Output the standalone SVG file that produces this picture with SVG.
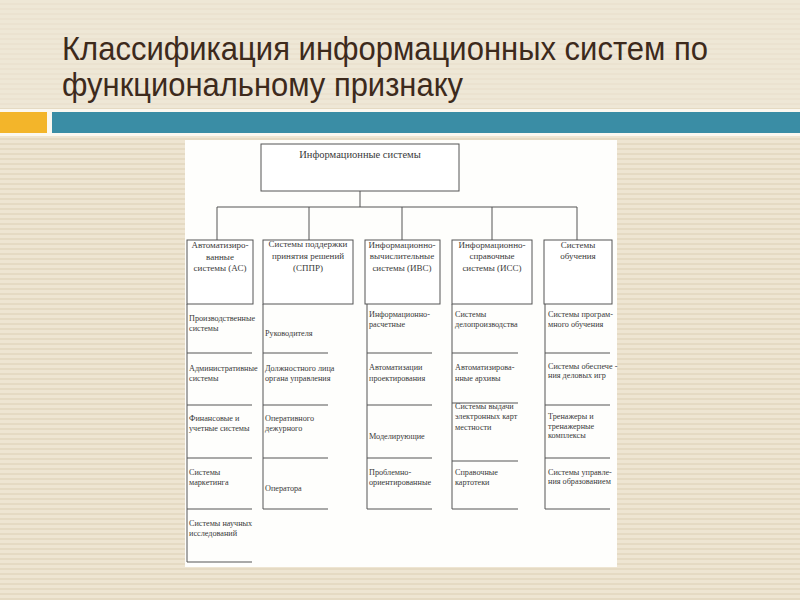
<svg xmlns="http://www.w3.org/2000/svg" width="800" height="600" viewBox="0 0 800 600">
<defs>
<pattern id="stripes" x="0" y="0" width="8" height="5" patternUnits="userSpaceOnUse">
<rect width="8" height="5" fill="#eee5d2"/>
<rect y="3" width="8" height="2" fill="#e5dac3"/>
</pattern>
<style>
.ln{stroke:#555;stroke-width:1;fill:none}
.bx{stroke:#555;stroke-width:1;fill:#fff}
.t{font-family:"Liberation Serif","DejaVu Serif",serif;font-size:8.2px;fill:#3a3a3a}
.h{font-family:"Liberation Serif","DejaVu Serif",serif;font-size:9px;fill:#3a3a3a;text-anchor:middle}
.title{font-family:"Liberation Sans Narrow","Liberation Sans",Arial,sans-serif;font-size:33px;fill:#3d2a1c}
</style>
</defs>
<rect width="800" height="600" fill="url(#stripes)"/>
<rect width="800" height="108" fill="#efe8d8" opacity="0.6"/>
<g id="title">
<text class="title" x="62" y="60" textLength="646" lengthAdjust="spacingAndGlyphs">Классификация информационных систем по</text>
<text class="title" x="62" y="96" textLength="401" lengthAdjust="spacingAndGlyphs">функциональному признаку</text>
</g>
<g id="bars">
<rect x="0" y="109" width="800" height="27" fill="#fbf8f0"/>
<rect x="0" y="112" width="47" height="21" fill="#f3b52a"/>
<rect x="52" y="112" width="748" height="21" fill="#3a8da5"/>
</g>
<rect id="panel" x="185" y="140" width="432" height="427" fill="#fefefc"/>
<g id="connectors">
<path class="ln" d="M360 191V207M217 207H577M217 207V240M309 207V240M402 207V240M492 207V240M577 207V240"/>
</g>
<g id="root">
<rect class="bx" x="261" y="144" width="198" height="47"/>
<text class="h" x="360" y="158" style="font-size:10.5px">Информационные системы</text>
</g>
<g id="as">
<rect class="bx" x="187" y="240" width="66" height="64"/>
<text class="h" x="220" y="248">Автоматизиро-</text>
<text class="h" x="220" y="260">ванные</text>
<text class="h" x="220" y="271">системы (АС)</text>
<path class="ln" d="M187 304V562M187 353H252M187 405H252M187 458H252M187 509H252M187 562H252"/>
<text class="t" x="189" y="321">Производственные</text>
<text class="t" x="189" y="331">системы</text>
<text class="t" x="189" y="371">Административные</text>
<text class="t" x="189" y="381">системы</text>
<text class="t" x="189" y="421">Финансовые и</text>
<text class="t" x="189" y="431">учетные системы</text>
<text class="t" x="189" y="475">Системы</text>
<text class="t" x="189" y="485">маркетинга</text>
<text class="t" x="189" y="526">Системы научных</text>
<text class="t" x="189" y="536">исследований</text>
</g>
<g id="sppr">
<rect class="bx" x="263" y="240" width="90" height="64"/>
<text class="h" x="308" y="247">Системы поддержки</text>
<text class="h" x="308" y="259">принятия решений</text>
<text class="h" x="308" y="271">(СППР)</text>
<path class="ln" d="M263 304V509M263 353H328M263 405H328M263 458H328M263 509H328"/>
<text class="t" x="265" y="336">Руководителя</text>
<text class="t" x="265" y="371">Должностного лица</text>
<text class="t" x="265" y="381">органа управления</text>
<text class="t" x="265" y="421">Оперативного</text>
<text class="t" x="265" y="431">дежурного</text>
<text class="t" x="265" y="491">Оператора</text>
</g>
<g id="ivs">
<rect class="bx" x="365" y="240" width="75" height="64"/>
<text class="h" x="402" y="248">Информационно-</text>
<text class="h" x="402" y="259">вычислительные</text>
<text class="h" x="402" y="271">системы (ИВС)</text>
<path class="ln" d="M367 304V509M367 353H432M367 405H432M367 458H432M367 509H432"/>
<text class="t" x="369" y="317">Информационно-</text>
<text class="t" x="369" y="327">расчетные</text>
<text class="t" x="369" y="370">Автоматизации</text>
<text class="t" x="369" y="381">проектирования</text>
<text class="t" x="369" y="439">Моделирующие</text>
<text class="t" x="369" y="475">Проблемно-</text>
<text class="t" x="369" y="485">ориентированные</text>
</g>
<g id="iss">
<rect class="bx" x="452" y="240" width="80" height="64"/>
<text class="h" x="492" y="248">Информационно-</text>
<text class="h" x="492" y="259">справочные</text>
<text class="h" x="492" y="271">системы (ИСС)</text>
<path class="ln" d="M452 304V509M452 353H518M452 403H518M452 461H518M452 509H518"/>
<text class="t" x="455" y="317">Системы</text>
<text class="t" x="455" y="327">делопроизводства</text>
<text class="t" x="455" y="370">Автоматизирова-</text>
<text class="t" x="455" y="381">нные архивы</text>
<text class="t" x="455" y="409">Системы выдачи</text>
<text class="t" x="455" y="419">электронных карт</text>
<text class="t" x="455" y="430">местности</text>
<text class="t" x="455" y="475">Справочные</text>
<text class="t" x="455" y="485">картотеки</text>
</g>
<g id="edu">
<rect class="bx" x="544" y="240" width="68" height="64"/>
<text class="h" x="578" y="248">Системы</text>
<text class="h" x="578" y="259">обучения</text>
<path class="ln" d="M545 304V509M545 353H610M545 405H610M545 458H610M545 509H610"/>
<text class="t" x="548" y="317">Системы програм-</text>
<text class="t" x="548" y="327">много обучения</text>
<text class="t" x="548" y="369">Системы обеспече -</text>
<text class="t" x="548" y="378">ния деловых игр</text>
<text class="t" x="548" y="419">Тренажеры и</text>
<text class="t" x="548" y="429">тренажерные</text>
<text class="t" x="548" y="438">комплексы</text>
<text class="t" x="548" y="475">Системы управле-</text>
<text class="t" x="548" y="484">ния образованием</text>
</g>
</svg>
